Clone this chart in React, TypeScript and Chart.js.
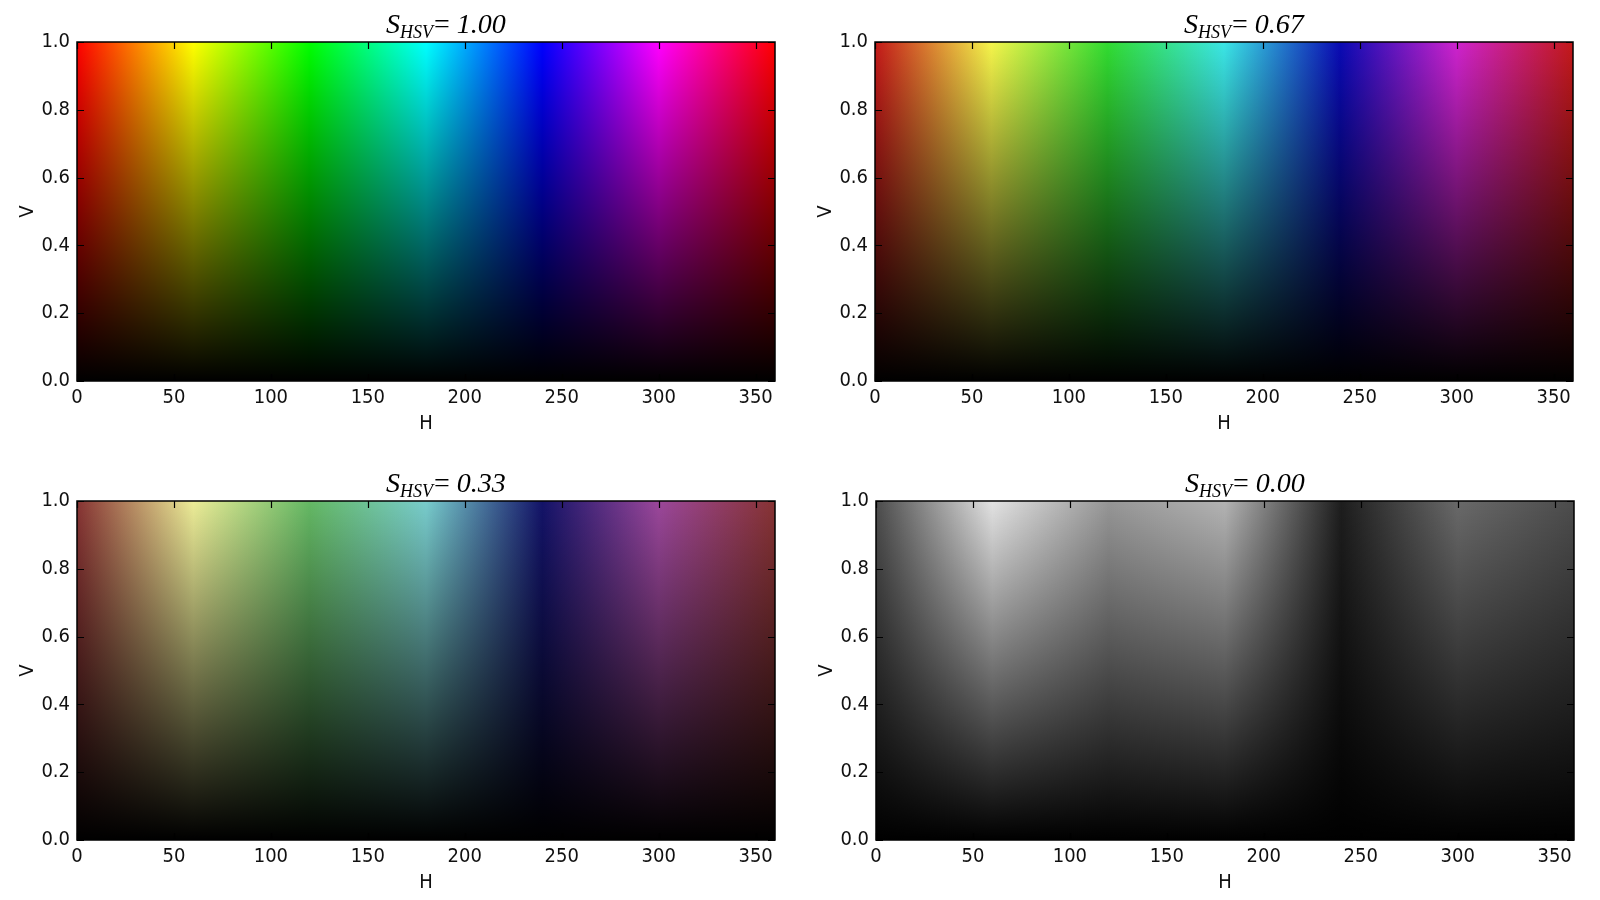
import React, { useEffect, useRef } from 'react';
import { Chart, registerables } from 'chart.js';

Chart.register(...registerables);

// ---- data ----
const H_RANGE = [0, 360];
const V_RANGE = [0, 1];
const HUE_STOPS = [0, 60, 120, 180, 240, 300, 360];
const HUE_RED = [1, 1, 0, 0, 0, 1, 1];
const HUE_GREEN = [0, 1, 1, 1, 0, 0, 0];
const HUE_BLUE = [0, 0, 0, 1, 1, 1, 0];
const LUMA_WEIGHTS = [0.299, 0.587, 0.114];
const SATURATIONS = [1.0, 0.67, 0.33, 0.0];
const SATURATION_LABELS = ['1.00', '0.67', '0.33', '0.00'];
const X_TICKS = [0, 50, 100, 150, 200, 250, 300, 350];
const Y_TICKS = [0.0, 0.2, 0.4, 0.6, 0.8, 1.0];
const X_LABEL = 'H';
const Y_LABEL = 'V';

// ---- layout ----
const CANVAS_W = 800;
const CANVAS_H = 440;
const PANEL_POS = [
  { left: 0, top: 0 },
  { left: 798, top: 0 },
  { left: 0, top: 459 },
  { left: 799, top: 459 },
];

const TICK_FONT = "'DejaVu Sans Condensed', 'Liberation Sans', sans-serif";
const SERIF = "'Liberation Serif', 'DejaVu Serif', serif";

function stopColor(i: number, s: number): string {
  const rgb = [HUE_RED[i], HUE_GREEN[i], HUE_BLUE[i]];
  const gray = rgb[0] * LUMA_WEIGHTS[0] + rgb[1] * LUMA_WEIGHTS[1] + rgb[2] * LUMA_WEIGHTS[2];
  const c = rgb.map((v) => Math.round(255 * (gray + s * (v - gray))));
  return `rgb(${c[0]},${c[1]},${c[2]})`;
}

const frameTicksPlugin = {
  id: 'frameTicks',
  afterDatasetsDraw(chart: any) {
    const { ctx, chartArea: a, scales } = chart;
    const xs = scales.x;
    const ys = scales.y;
    const len = 7;
    ctx.save();
    ctx.strokeStyle = '#000';
    ctx.lineWidth = 1.2;
    ctx.beginPath();
    X_TICKS.forEach((t) => {
      const px = Math.round(xs.getPixelForValue(t)) + 0.5;
      ctx.moveTo(px, a.bottom);
      ctx.lineTo(px, a.bottom - len);
      ctx.moveTo(px, a.top);
      ctx.lineTo(px, a.top + len);
    });
    Y_TICKS.forEach((t) => {
      const py = Math.round(ys.getPixelForValue(t)) + 0.5;
      ctx.moveTo(a.left, py);
      ctx.lineTo(a.left + len, py);
      ctx.moveTo(a.right, py);
      ctx.lineTo(a.right - len, py);
    });
    ctx.stroke();
    ctx.lineWidth = 1.5;
    ctx.strokeRect(a.left, a.top, a.right - a.left, a.bottom - a.top);
    ctx.restore();
  },
};

const titlePlugin = {
  id: 'hsvTitle',
  afterDraw(chart: any, _args: any, opts: any) {
    const { ctx, chartArea: a } = chart;
    let x = a.left + 309;
    const yb = a.top - 9;
    ctx.save();
    ctx.fillStyle = '#000';
    ctx.textAlign = 'left';
    ctx.textBaseline = 'alphabetic';
    ctx.font = `italic 28px ${SERIF}`;
    ctx.fillText('S', x, yb);
    x += ctx.measureText('S').width;
    ctx.font = `italic 18px ${SERIF}`;
    ctx.fillText('HSV', x, yb + 5);
    x += ctx.measureText('HSV').width + 1;
    ctx.font = `28px ${SERIF}`;
    ctx.fillText('=', x, yb);
    x += ctx.measureText('=').width + 7;
    ctx.font = `italic 28px ${SERIF}`;
    ctx.fillText(opts.text, x, yb);
    ctx.restore();
  },
};

function Panel({ index }: { index: number }) {
  const ref = useRef<HTMLCanvasElement | null>(null);
  useEffect(() => {
    if (!ref.current) return;
    const s = SATURATIONS[index];
    const topEdge = HUE_STOPS.map((h) => ({ x: h, y: V_RANGE[1] }));
    const chart = new Chart(ref.current, {
      type: 'line',
      data: {
        datasets: [
          {
            // value (V) darkening overlay, drawn on top
            data: topEdge,
            fill: 'origin',
            borderWidth: 0,
            pointRadius: 0,
            backgroundColor: (c: any) => {
              const area = c.chart.chartArea;
              if (!area) return 'transparent';
              const g = c.chart.ctx.createLinearGradient(0, area.top, 0, area.bottom);
              g.addColorStop(0, 'rgba(0,0,0,0)');
              g.addColorStop(1, 'rgba(0,0,0,1)');
              return g;
            },
          },
          {
            // hue gradient at the given saturation
            data: topEdge,
            fill: 'origin',
            borderWidth: 0,
            pointRadius: 0,
            backgroundColor: (c: any) => {
              const area = c.chart.chartArea;
              if (!area) return 'transparent';
              const g = c.chart.ctx.createLinearGradient(area.left, 0, area.right, 0);
              HUE_STOPS.forEach((h, i) => {
                g.addColorStop((h - H_RANGE[0]) / (H_RANGE[1] - H_RANGE[0]), stopColor(i, s));
              });
              return g;
            },
          },
        ],
      },
      options: {
        animation: false,
        responsive: false,
        devicePixelRatio: 1,
        layout: { padding: { left: 0, top: 42, right: 25, bottom: 0 } },
        plugins: {
          legend: { display: false },
          tooltip: { enabled: false },
          hsvTitle: { text: SATURATION_LABELS[index] },
        } as any,
        scales: {
          x: {
            type: 'linear',
            min: H_RANGE[0],
            max: H_RANGE[1],
            grid: { display: false, drawTicks: false },
            border: { display: false },
            afterBuildTicks: (sc: any) => {
              sc.ticks = X_TICKS.map((v) => ({ value: v }));
            },
            afterFit: (sc: any) => {
              sc.height = 59;
            },
            ticks: {
              autoSkip: false,
              maxRotation: 0,
              padding: 5,
              color: '#111',
              font: { family: TICK_FONT, size: 20 },
              callback: (v: any) => String(v),
            },
            title: {
              display: true,
              text: X_LABEL,
              color: '#111',
              font: { family: TICK_FONT, size: 20 },
              padding: { top: 0, bottom: 4 },
            },
          },
          y: {
            type: 'linear',
            min: V_RANGE[0],
            max: V_RANGE[1],
            grid: { display: false, drawTicks: false },
            border: { display: false },
            afterBuildTicks: (sc: any) => {
              sc.ticks = Y_TICKS.map((v) => ({ value: v }));
            },
            afterFit: (sc: any) => {
              sc.width = 77;
            },
            ticks: {
              autoSkip: false,
              padding: 7,
              color: '#111',
              font: { family: TICK_FONT, size: 20 },
              callback: (v: any) => Number(v).toFixed(1),
            },
            title: {
              display: true,
              text: Y_LABEL,
              color: '#111',
              font: { family: TICK_FONT, size: 20 },
              padding: { top: 16, bottom: 0 },
            },
          },
        },
      },
      plugins: [frameTicksPlugin, titlePlugin],
    } as any);
    return () => chart.destroy();
  }, [index]);
  const pos = PANEL_POS[index];
  return (
    <canvas
      ref={ref}
      width={CANVAS_W}
      height={CANVAS_H}
      style={{ position: 'absolute', left: pos.left, top: pos.top, width: CANVAS_W, height: CANVAS_H }}
    />
  );
}

export default function App() {
  return (
    <div
      style={{
        position: 'fixed',
        left: 0,
        top: 0,
        width: 1600,
        height: 900,
        overflow: 'hidden',
        background: '#fff',
      }}
    >
      {SATURATIONS.map((_, i) => (
        <Panel key={i} index={i} />
      ))}
    </div>
  );
}
